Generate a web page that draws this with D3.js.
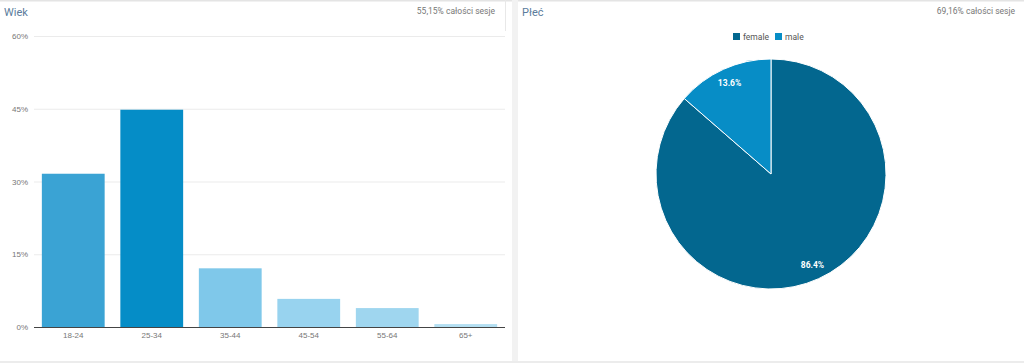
<!DOCTYPE html>
<html>
<head>
<meta charset="utf-8">
<script src="https://cdn.jsdelivr.net/npm/d3@7"></script>
<style>
  html, body { margin: 0; padding: 0; background: #fff; }
  body { width: 1024px; height: 363px; overflow: hidden; font-family: Roboto, "Noto Sans", sans-serif; }
  .grid line { stroke: #ebebeb; }
  .grid path { display: none; }
  .tick text { fill: #777; font-size: 8px; }
</style>
</head>
<body>
<div id="chart"></div>
<script>
// Age groups (Wiek)
const ageGroups = ['18-24', '25-34', '35-44', '45-54', '55-64', '65+']
const ageShares = [31.6, 44.8, 12.1, 5.8, 3.9, 0.6]
const ageColors = ['#3aa3d4', '#058dc7', '#7fc8ea', '#98d3ef', '#9fd6ef', '#b3dff2']
const ageTicks = [0, 15, 30, 45, 60]

// Gender (Płeć)
const genders = ['female', 'male']
const genderShares = [86.4, 13.6]
const genderColors = ['#03678f', '#078dc6']

const headers = [
  { title: 'Wiek', note: '55,15% całości sesje' },
  { title: 'Płeć', note: '69,16% całości sesje' }
]

const width = 1024
const height = 363

const svg = d3.select('#chart')
  .append('svg')
  .attr('width', width)
  .attr('height', height)

// Panel frames
svg.append('rect').attr('x', 0).attr('y', 0).attr('width', width).attr('height', 1.5).attr('fill', '#e4e4e4')
svg.append('rect').attr('x', 512).attr('y', 0).attr('width', 6).attr('height', height).attr('fill', '#f2f2f2')
svg.append('rect').attr('x', 0).attr('y', 361).attr('width', width).attr('height', 2).attr('fill', '#ececec')
svg.append('line').attr('x1', 505.5).attr('x2', 505.5).attr('y1', 0).attr('y2', 31).attr('stroke', '#e8e8e8')

// Headers
const panelX = [[4, 495], [522, 1015]]
headers.forEach((h, i) => {
  svg.append('text')
    .attr('x', panelX[i][0])
    .attr('y', 16)
    .attr('fill', '#5b7c9c')
    .attr('font-size', 11)
    .text(h.title)
  svg.append('text')
    .attr('x', panelX[i][1])
    .attr('y', 14)
    .attr('text-anchor', 'end')
    .attr('fill', '#777')
    .attr('font-size', 8.5)
    .text(h.note)
})

// ---- Bar chart ----
const plot = { left: 34, right: 505, top: 36, bottom: 327 }

const x = d3.scaleBand()
  .domain(ageGroups)
  .range([plot.left, plot.right])
  .paddingInner(0.2)
  .paddingOuter(0.1)

const y = d3.scaleLinear()
  .domain([0, 60])
  .range([plot.bottom, plot.top])

// Gridlines
svg.append('g')
  .attr('class', 'grid')
  .attr('transform', `translate(${plot.left}, 0)`)
  .call(d3.axisLeft(y).tickValues(ageTicks.slice(1)).tickSize(-(plot.right - plot.left)).tickFormat(''))

// Y labels
const yAxis = svg.append('g')
  .attr('transform', `translate(${plot.left - 6}, 0)`)
  .call(d3.axisLeft(y).tickValues(ageTicks).tickSize(0).tickPadding(0).tickFormat(d => d + '%'))
yAxis.select('.domain').remove()

// Bars
svg.append('g')
  .selectAll('rect')
  .data(ageGroups)
  .join('rect')
  .attr('x', d => x(d))
  .attr('width', x.bandwidth())
  .attr('y', (d, i) => y(ageShares[i]))
  .attr('height', (d, i) => y(0) - y(ageShares[i]))
  .attr('fill', (d, i) => ageColors[i])

// Bottom axis
const xAxis = svg.append('g')
  .attr('transform', `translate(0, ${plot.bottom})`)
  .call(d3.axisBottom(x).tickSize(0).tickPadding(5))
xAxis.select('.domain').attr('stroke', '#444').attr('d', `M${plot.left},0.5H${plot.right}`)

// ---- Pie chart ----
const cx = 771
const cy = 174
const radius = 115

const pie = d3.pie().sort(null).value(d => d)
const arc = d3.arc().innerRadius(0).outerRadius(radius)
const labelArc = d3.arc().innerRadius(100).outerRadius(100)

const pieG = svg.append('g').attr('transform', `translate(${cx}, ${cy})`)
const slices = pie(genderShares)

pieG.selectAll('path')
  .data(slices)
  .join('path')
  .attr('d', arc)
  .attr('fill', (d, i) => genderColors[i])
  .attr('stroke', '#fff')
  .attr('stroke-width', 1)

pieG.selectAll('text')
  .data(slices)
  .join('text')
  .attr('transform', d => `translate(${labelArc.centroid(d)})`)
  .attr('text-anchor', 'middle')
  .attr('dy', '0.35em')
  .attr('fill', '#fff')
  .attr('font-size', 8.5)
  .attr('font-weight', 'bold')
  .text(d => d.value.toFixed(1) + '%')

// Legend
const legendX = [733, 775]
const legend = svg.append('g')
  .selectAll('g')
  .data(genders)
  .join('g')
  .attr('transform', (d, i) => `translate(${legendX[i]}, 33)`)
legend.append('rect')
  .attr('width', 7)
  .attr('height', 7)
  .attr('fill', (d, i) => genderColors[i])
legend.append('text')
  .attr('x', 10)
  .attr('y', 6.5)
  .attr('fill', '#555')
  .attr('font-size', 8.5)
  .text(d => d)
</script>
</body>
</html>
